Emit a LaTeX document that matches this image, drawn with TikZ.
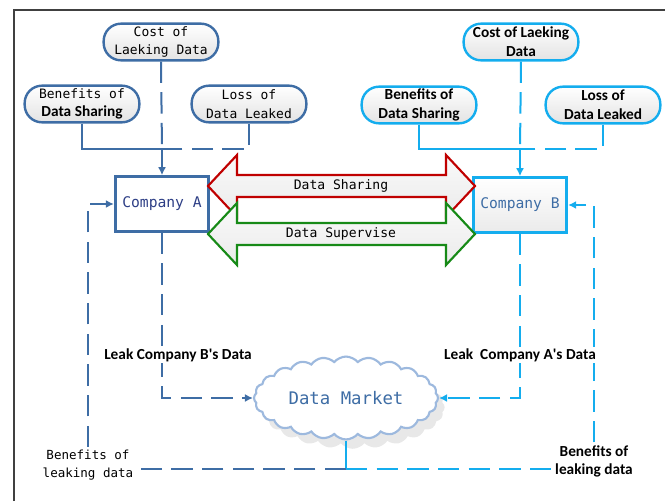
\documentclass[tikz,border=0pt]{standalone}
\usepackage{fontspec}
\setmainfont{Carlito}
\newfontfamily\simfont{DejaVu Sans Mono}
\usetikzlibrary{arrows.meta,positioning,shapes.symbols,shadows}

\definecolor{steelA}{HTML}{3E6DA5}
\definecolor{cyanB}{HTML}{14ADEE}
\definecolor{navyA}{HTML}{2E3F86}
\definecolor{cloudblue}{HTML}{9DB9DE}
\definecolor{shareRed}{HTML}{C00000}
\definecolor{superGreen}{HTML}{178A17}
\definecolor{framegray}{HTML}{404040}

\newcommand{\boldcal}[1]{{\normalfont\bfseries\fontsize{11.5}{14}\selectfont #1}}

\begin{document}
\begin{tikzpicture}[
  x=0.75pt, y=-0.75pt,
  pill/.style={draw, rounded corners=13pt, minimum width=86pt, minimum height=27.5pt, inner sep=1pt, align=center, line width=1.8pt, top color=white, bottom color=gray!22},
  pillA/.style={pill, draw=steelA, font=\simfont\fontsize{9.7}{14}\selectfont},
  pillB/.style={pill, draw=cyanB, font=\bfseries\fontsize{11.5}{14}\selectfont},
  company/.style={draw, line width=2.2pt, minimum width=70pt, minimum height=41pt, inner sep=2pt, font=\simfont\fontsize{11}{13}\selectfont},
  compA/.style={company, draw=steelA, fill=white, text=navyA},
  compB/.style={company, draw=cyanB, top color=white, bottom color=gray!16, text=steelA},
  market/.style={cloud, cloud puffs=24, cloud puff arc=100, aspect=2.4, draw=cloudblue, line width=1.6pt, fill=white, minimum width=138pt, minimum height=57pt, text=steelA, font=\simfont\fontsize{13}{15}\selectfont, drop shadow={shadow xshift=5pt, shadow yshift=-7pt, fill=gray!30, opacity=.6}},
  bigarrow/.style={line width=1.6pt, line join=miter, top color=gray!4, bottom color=gray!16},
  bartext/.style={font=\simfont\fontsize{9.8}{12}\selectfont},
  leak/.style={fill=white, inner sep=1pt, font=\bfseries\fontsize{11.5}{14}\selectfont},
  gainA/.style={align=center, inner sep=2pt, font=\simfont\fontsize{9.4}{13.5}\selectfont},
  gainB/.style={align=center, inner sep=2pt, font=\bfseries\fontsize{11.5}{13.5}\selectfont},
  lineA/.style={draw=steelA, line width=1.5pt},
  lineB/.style={draw=cyanB, line width=1.5pt},
  dashline/.style={dash pattern=on 16pt off 7pt},
  tipA/.style={-{Latex[length=6pt,width=6pt]}},
  tipB/.style={-{Latex[length=6pt,width=6pt]}},
  frame/.style={draw=framegray, line width=1.2pt}
]
  \useasboundingbox (0,0) rectangle (665,501);
  \draw[frame] (14,501) -- (14,10) -- (665,10);

  \node[pillA] (a_cost) at (161,42) {Cost of\\Laeking Data};
  \node[pillA] (a_ben) at (82,104) {Benefits of\\\boldcal{Data Sharing}};
  \node[pillA] (a_loss) at (249,104) {Loss of\\Data Leaked};
  \node[pillB] (b_cost) at (521,42) {Cost of Laeking\\Data};
  \node[pillB] (b_ben) at (419,105) {Benefits of\\Data Sharing};
  \node[pillB] (b_loss) at (603,105) {Loss of\\Data Leaked};

  \node[compA] (a_comp) at (162,204) {Company A};
  \node[compB] (b_comp) at (520,205) {Company B};

  \draw[bigarrow, draw=shareRed] (208,186) -- (237,155) -- (237,175) -- (446,175) -- (446,155) -- (475,186)
    -- (446,217) -- (446,197) -- (237,197) -- (237,217) -- cycle;
  \draw[bigarrow, draw=superGreen] (208,234) -- (237,203) -- (237,223) -- (446,223) -- (446,203) -- (475,234)
    -- (446,265) -- (446,245) -- (237,245) -- (237,265) -- cycle;
  \node[bartext] (share) at (341,186) {Data Sharing};
  \node[bartext] (supervise) at (341,234) {Data Supervise};

  \node[market] (market) at (346,398) {Data Market};
  \node[gainA] (a_gain) at (88,465) {Benefits of\\leaking data};
  \node[gainB] (b_gain) at (594,461) {Benefits of\\leaking data};

  \coordinate (topline) at (0,149);
  \coordinate (botline) at (0,469);
  \coordinate (a_join) at (a_comp.north |- topline);
  \coordinate (b_join) at (b_comp.north |- topline);
  \coordinate (m_foot) at (market.south |- botline);

  \draw[lineA] (a_ben.south) |- (a_join);
  \draw[lineA, dashline] (a_cost.south) -- (a_join);
  \draw[lineA, dashline] (a_loss.south) |- (a_join);
  \draw[lineA, tipA] (a_join) -- (a_comp.north);

  \draw[lineB] (b_ben.south) |- (b_join);
  \draw[lineB, dashline] (b_cost.south) -- (b_join);
  \draw[lineB, dashline] (b_loss.south) |- (b_join);
  \draw[lineB, tipB] (b_join) -- (b_comp.north);

  \draw[lineA, dashline, tipA] (a_comp.south) |- (market.west);
  \draw[lineB, dashline, tipB] (b_comp.south) |- (market.east);
  \draw[lineA, dashline, tipA] (a_gain.north) |- (a_comp.west);
  \draw[lineB, dashline, tipB] (b_gain.north) |- (b_comp.east);

  \draw[lineB] (market.south) -- (m_foot);
  \draw[lineA, dashline] (m_foot) -- (m_foot -| a_gain.east);
  \draw[lineB, dashline] (m_foot) -- (m_foot -| b_gain.west);

  \node[leak] (a_leak) at (178,355) {Leak Company B\textquotesingle s Data};
  \node[leak] (b_leak) at (520,355) {Leak\ \ Company A\textquotesingle s Data};
\end{tikzpicture}
\end{document}
